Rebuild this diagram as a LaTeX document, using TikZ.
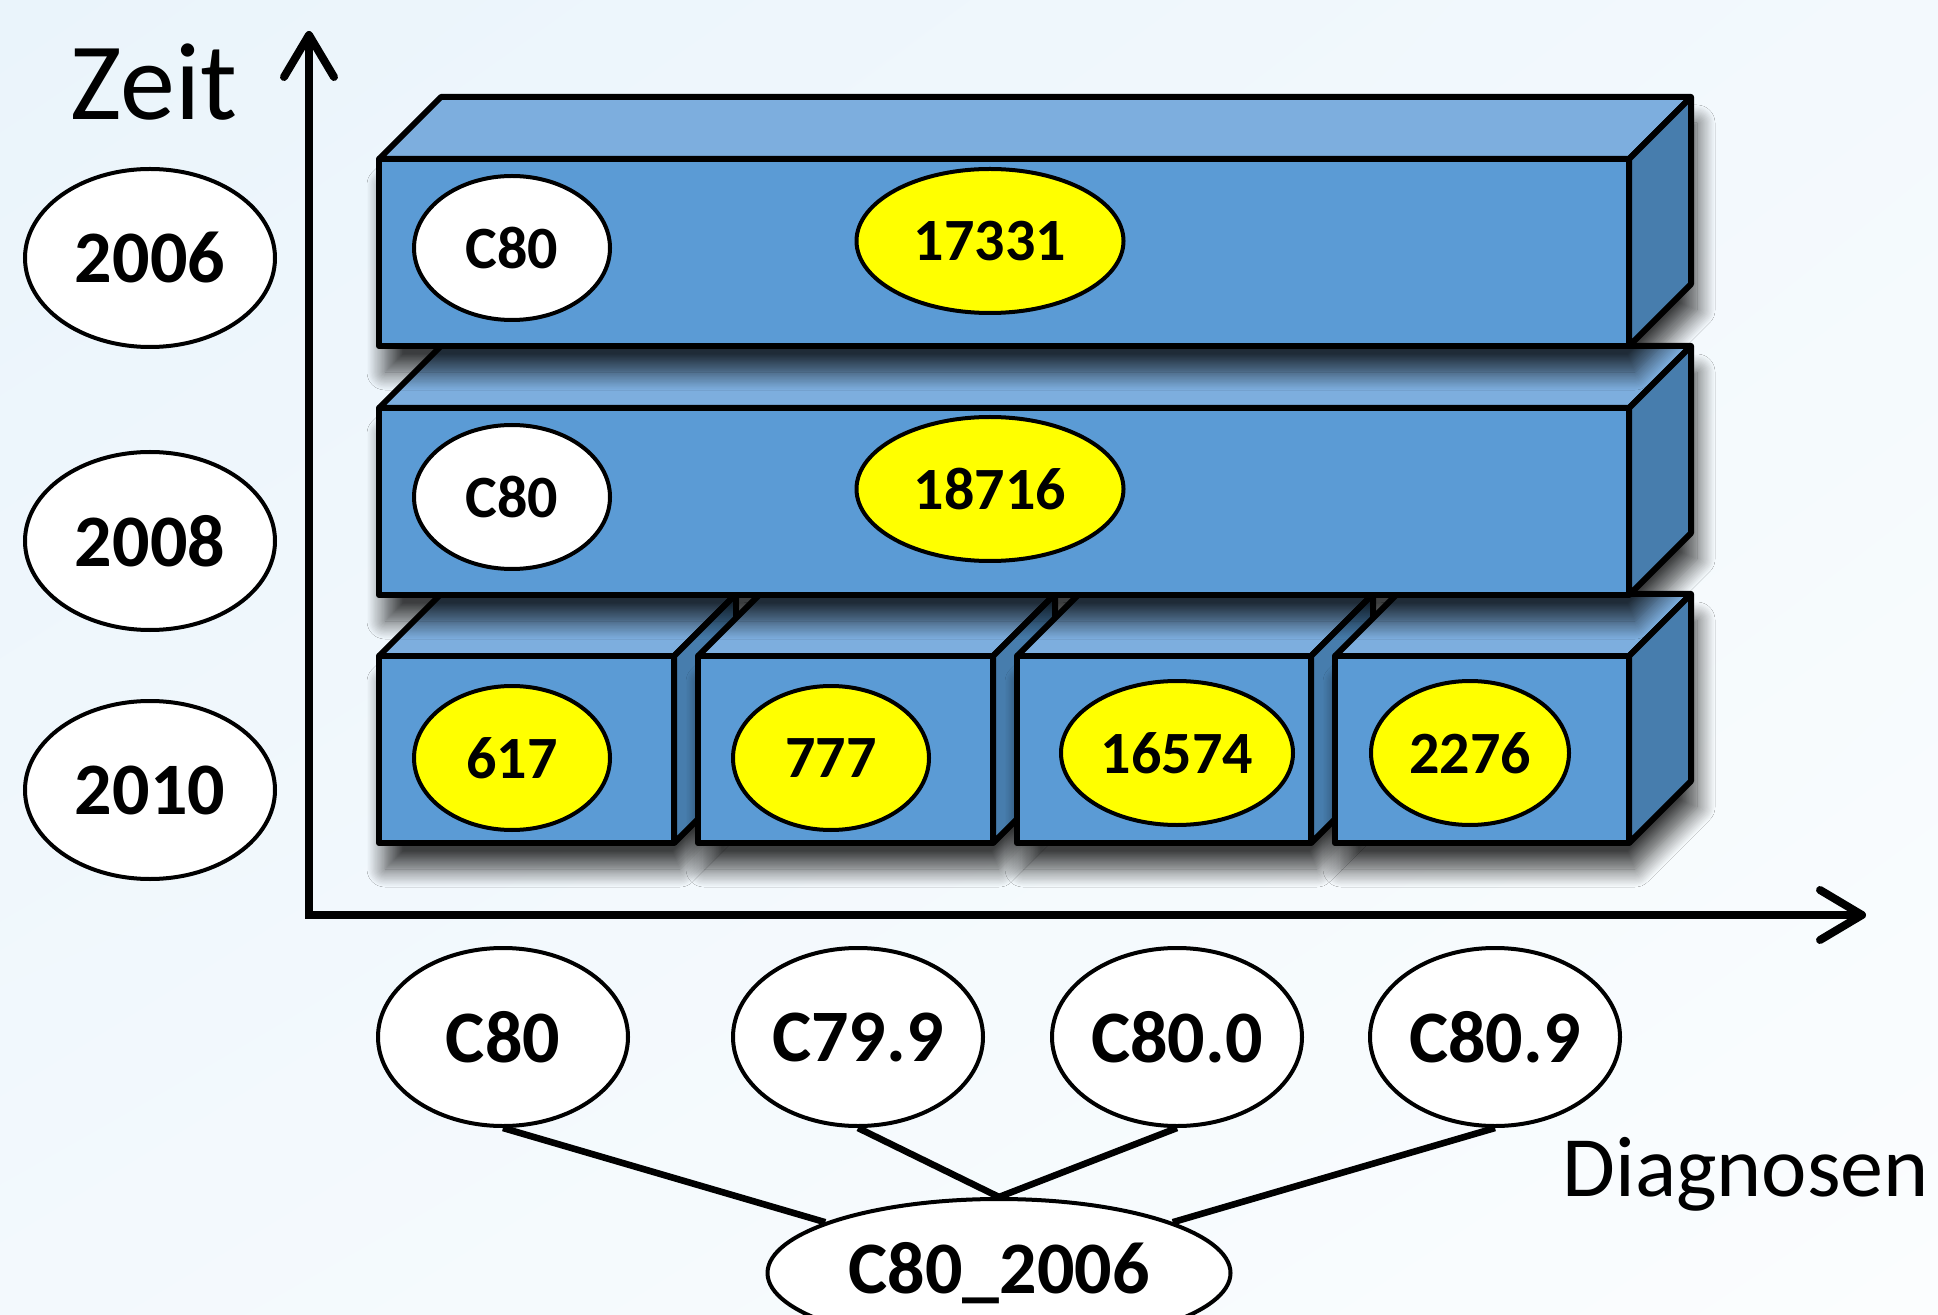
\documentclass[tikz,border=0pt]{standalone}
\usepackage{fontspec}
\setmainfont{Carlito}
\usetikzlibrary{arrows.meta,shapes.geometric,shadings,shadows.blur}
\definecolor{frontblue}{HTML}{5B9BD5}
\definecolor{topblue}{HTML}{7DAEDE}
\definecolor{sideblue}{HTML}{477DAD}
\definecolor{bgblue}{HTML}{EAF4FB}
\definecolor{bgmid}{HTML}{F3F9FD}
\definecolor{bglight}{HTML}{FBFDFE}
\definecolor{countyellow}{HTML}{FFFF00}
\begin{document}
\begin{tikzpicture}[x=0.5pt,y=-0.5pt,
  face/.style={draw=black,line width=3pt,line join=round},
  boxshadow/.style={blur shadow={shadow xshift=3pt,shadow yshift=-13pt,shadow blur radius=9pt,shadow blur steps=16,shadow opacity=75}},
  frontface/.style={face,fill=frontblue},
  topface/.style={face,fill=topblue},
  sideface/.style={face,fill=sideblue},
  oval/.style={ellipse,draw=black,line width=2pt,inner sep=0pt,font=\bfseries\fontsize{30}{30}\selectfont},
  codeoval/.style={oval,fill=white,minimum width=98pt,minimum height=72pt},
  countoval/.style={oval,fill=countyellow,minimum height=72pt},
  axisoval/.style={oval,fill=white,minimum width=125pt,minimum height=89pt,font=\bfseries\fontsize{37}{37}\selectfont},
  axisline/.style={line width=4pt,line cap=round,>={Straight Barb[length=21pt,width=25pt,round]}},
  link/.style={line width=3.3pt}
]
\shade[upper left=bgblue,upper right=bgmid,lower left=bgmid,lower right=bglight] (0,0) rectangle (1938,1315);
\useasboundingbox (0,0) rectangle (1938,1315);
\path [boxshadow] (379,656) -- (441,594) -- (736,594) -- (736,781) -- (674,843) -- (379,843) -- cycle;
\draw [topface] (379,656) -- (441,594) -- (736,594) -- (674,656) -- cycle;
\draw [sideface] (674,656) -- (736,594) -- (736,781) -- (674,843) -- cycle;
\draw [frontface] (379,656) rectangle (674,843);
\path [boxshadow] (698,656) -- (760,594) -- (1055,594) -- (1055,781) -- (993,843) -- (698,843) -- cycle;
\draw [topface] (698,656) -- (760,594) -- (1055,594) -- (993,656) -- cycle;
\draw [sideface] (993,656) -- (1055,594) -- (1055,781) -- (993,843) -- cycle;
\draw [frontface] (698,656) rectangle (993,843);
\path [boxshadow] (1017,656) -- (1079,594) -- (1373,594) -- (1373,781) -- (1311,843) -- (1017,843) -- cycle;
\draw [topface] (1017,656) -- (1079,594) -- (1373,594) -- (1311,656) -- cycle;
\draw [sideface] (1311,656) -- (1373,594) -- (1373,781) -- (1311,843) -- cycle;
\draw [frontface] (1017,656) rectangle (1311,843);
\path [boxshadow] (1335,656) -- (1397,594) -- (1691,594) -- (1691,781) -- (1629,843) -- (1335,843) -- cycle;
\draw [topface] (1335,656) -- (1397,594) -- (1691,594) -- (1629,656) -- cycle;
\draw [sideface] (1629,656) -- (1691,594) -- (1691,781) -- (1629,843) -- cycle;
\draw [frontface] (1335,656) rectangle (1629,843);
\path [boxshadow] (379,408) -- (441,346) -- (1691,346) -- (1691,533) -- (1629,595) -- (379,595) -- cycle;
\draw [topface] (379,408) -- (441,346) -- (1691,346) -- (1629,408) -- cycle;
\draw [sideface] (1629,408) -- (1691,346) -- (1691,533) -- (1629,595) -- cycle;
\draw [frontface] (379,408) rectangle (1629,595);
\path [boxshadow] (379,159) -- (441,97) -- (1691,97) -- (1691,284) -- (1629,346) -- (379,346) -- cycle;
\draw [topface] (379,159) -- (441,97) -- (1691,97) -- (1629,159) -- cycle;
\draw [sideface] (1629,159) -- (1691,97) -- (1691,284) -- (1629,346) -- cycle;
\draw [frontface] (379,159) rectangle (1629,346);
\node [codeoval] (code2006) at (512,248) {C80};
\node [countoval,minimum width=133.5pt] (count2006) at (990,241) {17331};
\node [codeoval] (code2008) at (512,497) {C80};
\node [countoval,minimum width=133.5pt] (count2008) at (990,489) {18716};
\node [countoval,minimum width=98pt] (countC80) at (512,758) {617};
\node [countoval,minimum width=98pt] (countC799) at (831,758) {777};
\node [countoval,minimum width=116pt] (countC800) at (1177,753) {16574};
\node [countoval,minimum width=99pt] (countC809) at (1470,753) {2276};
\node [axisoval] (y2006) at (150,258) {2006};
\node [axisoval] (y2008) at (150,541) {2008};
\node [axisoval] (y2010) at (150,790) {2010};
\coordinate (origin) at (309,915);
\coordinate (ytip) at (309,31);
\coordinate (xtip) at (1866,915);
\draw [axisline,<->] (ytip) -- (origin) -- (xtip);
\node [anchor=base west,inner sep=0pt,font=\fontsize{55}{55}\selectfont] (zeit) at (70,120) {Zeit};
\node [anchor=base west,inner sep=0pt,font=\fontsize{43}{43}\selectfont] (diagnosen) at (1562,1196) {Diagnosen};
\node [axisoval] (dC80) at (503,1037) {C80};
\node [axisoval] (dC799) at (858,1037) {C79.9};
\node [axisoval] (dC800) at (1177,1037) {C80.0};
\node [axisoval] (dC809) at (1495,1037) {C80.9};
\node [axisoval,minimum width=231.5pt,minimum height=74pt] (c80group) at (999,1273) {C80\_2006};
\draw [link] (dC80.south) -- (c80group);
\draw [link] (dC799.south) -- (c80group.north);
\draw [link] (dC800.south) -- (c80group.north);
\draw [link] (dC809.south) -- (c80group);
\end{tikzpicture}
\end{document}
